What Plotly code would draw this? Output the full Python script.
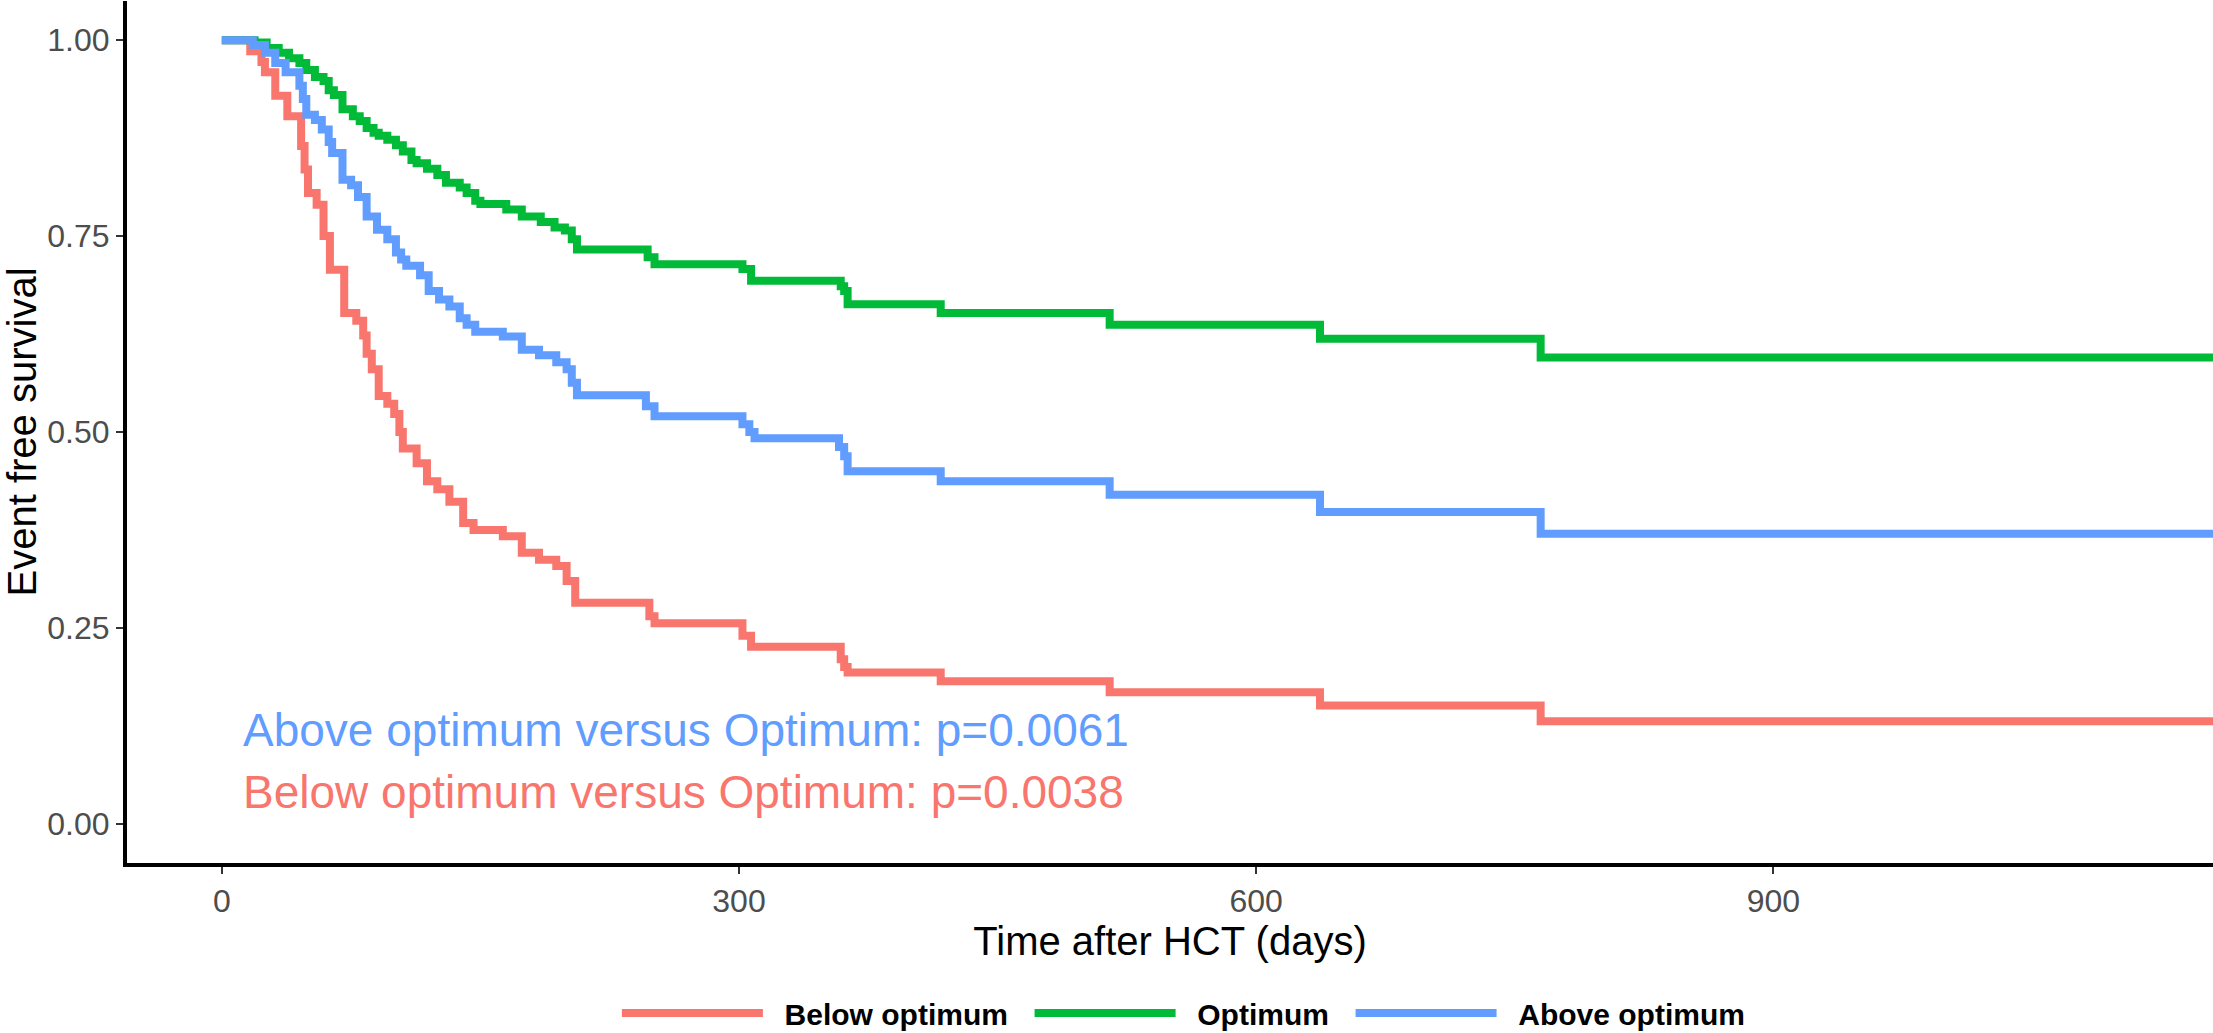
import plotly.graph_objects as go

# ---- Data ----
groups = ["Below optimum", "Optimum", "Above optimum"]
colors = ["#F8766D", "#00BA38", "#619CFF"]

below_t = [0, 16.5, 23, 25, 31, 38, 46, 48, 50, 55, 59, 62.7, 71, 78, 82, 84, 87, 91, 96, 100,
           103, 105, 113, 119, 125, 132, 140, 146, 163, 174, 184, 194, 200, 205, 248, 251, 302,
           307, 359, 361, 363, 417, 515, 637, 765, 1160]
below_s = [1.0, 0.986, 0.972, 0.959, 0.929, 0.903, 0.865, 0.835, 0.805, 0.79, 0.75, 0.707, 0.652,
           0.642, 0.623, 0.60, 0.58, 0.546, 0.536, 0.523, 0.50, 0.479, 0.46, 0.437, 0.427, 0.411,
           0.384, 0.375, 0.367, 0.346, 0.337, 0.329, 0.31, 0.282, 0.265, 0.256, 0.24, 0.226, 0.21,
           0.20, 0.193, 0.182, 0.168, 0.151, 0.131, 0.131]

optimum_t = [0, 19, 26, 33, 39, 45, 49, 54, 59, 62, 65, 70, 76, 80, 84, 88, 91, 96, 101, 105, 110,
             113, 119, 125, 130, 138, 142, 147, 150, 165, 174, 185, 193, 199, 203, 206, 247, 251,
             302, 307, 359, 361, 363, 417, 515, 637, 765, 1160]
optimum_s = [1.0, 0.997, 0.990, 0.984, 0.977, 0.971, 0.962, 0.953, 0.948, 0.936, 0.930, 0.912,
             0.903, 0.897, 0.888, 0.882, 0.878, 0.873, 0.866, 0.858, 0.847, 0.843, 0.836, 0.828,
             0.818, 0.812, 0.805, 0.795, 0.791, 0.784, 0.775, 0.768, 0.761, 0.757, 0.746, 0.733,
             0.723, 0.714, 0.708, 0.693, 0.686, 0.680, 0.663, 0.652, 0.637, 0.619, 0.595, 0.595]

above_t = [0, 18, 25, 31, 37, 45, 47, 49, 54, 58, 62, 64, 70, 75, 79, 84, 90, 96, 101, 104, 107,
           115, 120, 126, 132, 138, 142, 147, 163, 174, 184, 194, 200, 203, 206, 246, 251, 302,
           306, 309, 358, 361, 363, 417, 515, 637, 765, 1160]
above_s = [1.0, 0.994, 0.984, 0.971, 0.959, 0.942, 0.925, 0.905, 0.898, 0.886, 0.870, 0.856,
           0.822, 0.815, 0.800, 0.775, 0.758, 0.746, 0.729, 0.720, 0.712, 0.700, 0.680, 0.669,
           0.660, 0.645, 0.637, 0.628, 0.622, 0.605, 0.598, 0.589, 0.580, 0.563, 0.547, 0.533,
           0.520, 0.510, 0.500, 0.492, 0.481, 0.469, 0.450, 0.437, 0.420, 0.398, 0.370, 0.370]

x_ticks = [0, 300, 600, 900]
y_ticks = [0.0, 0.25, 0.5, 0.75, 1.0]

pval_labels = ["Above optimum versus Optimum: p=0.0061",
               "Below optimum versus Optimum: p=0.0038"]
pval_colors = ["#619CFF", "#F8766D"]
pval_x = [11, 11]
pval_y = [0.12, 0.04]

FONT = "Liberation Sans, Arial, Helvetica, sans-serif"
NB = "\u00a0"

fig = go.Figure()
series = [(below_t, below_s), (optimum_t, optimum_s), (above_t, above_s)]
for name, color, (t, s) in zip(groups, colors, series):
    fig.add_trace(go.Scatter(
        x=t, y=s, mode="lines", name=NB * 2 + name + NB * 2,
        line=dict(shape="hv", color=color, width=8),
    ))

for txt, col, xx, yy in zip(pval_labels, pval_colors, pval_x, pval_y):
    fig.add_annotation(x=xx, y=yy, xref="x", yref="y", text=txt, showarrow=False,
                       xanchor="left", yanchor="middle",
                       font=dict(family=FONT, size=46, color=col))

fig.update_layout(
    width=2213, height=1033,
    margin=dict(l=127, r=0, t=1, b=170),
    plot_bgcolor="white", paper_bgcolor="white",
    font=dict(family=FONT, color="black"),
    showlegend=True,
    legend=dict(
        orientation="h", xref="paper", x=0.5105, xanchor="center",
        yref="container", y=0.0194, yanchor="middle",
        font=dict(family=FONT, size=30, color="black", weight="bold"),
        itemwidth=141, bgcolor="rgba(0,0,0,0)", borderwidth=0,
    ),
)

fig.update_xaxes(
    range=[-55, 1155], tickvals=x_ticks, showgrid=False, zeroline=False,
    showline=True, linecolor="black", linewidth=4,
    ticks="outside", ticklen=7, tickwidth=2, tickcolor="#333333",
    tickfont=dict(family=FONT, size=32, color="#4D4D4D"),
    title=dict(text="Time after HCT (days)", font=dict(family=FONT, size=40, color="black"),
               standoff=10),
)
fig.update_yaxes(
    range=[-0.05, 1.05], tickvals=y_ticks, tickformat=".2f", showgrid=False, zeroline=False,
    showline=True, linecolor="black", linewidth=4,
    ticks="outside", ticklen=7, tickwidth=2, tickcolor="#333333",
    tickfont=dict(family=FONT, size=32, color="#4D4D4D"),
    title=dict(text="Event free survival", font=dict(family=FONT, size=40, color="black"),
               standoff=8),
)

fig.write_html("out.html")
